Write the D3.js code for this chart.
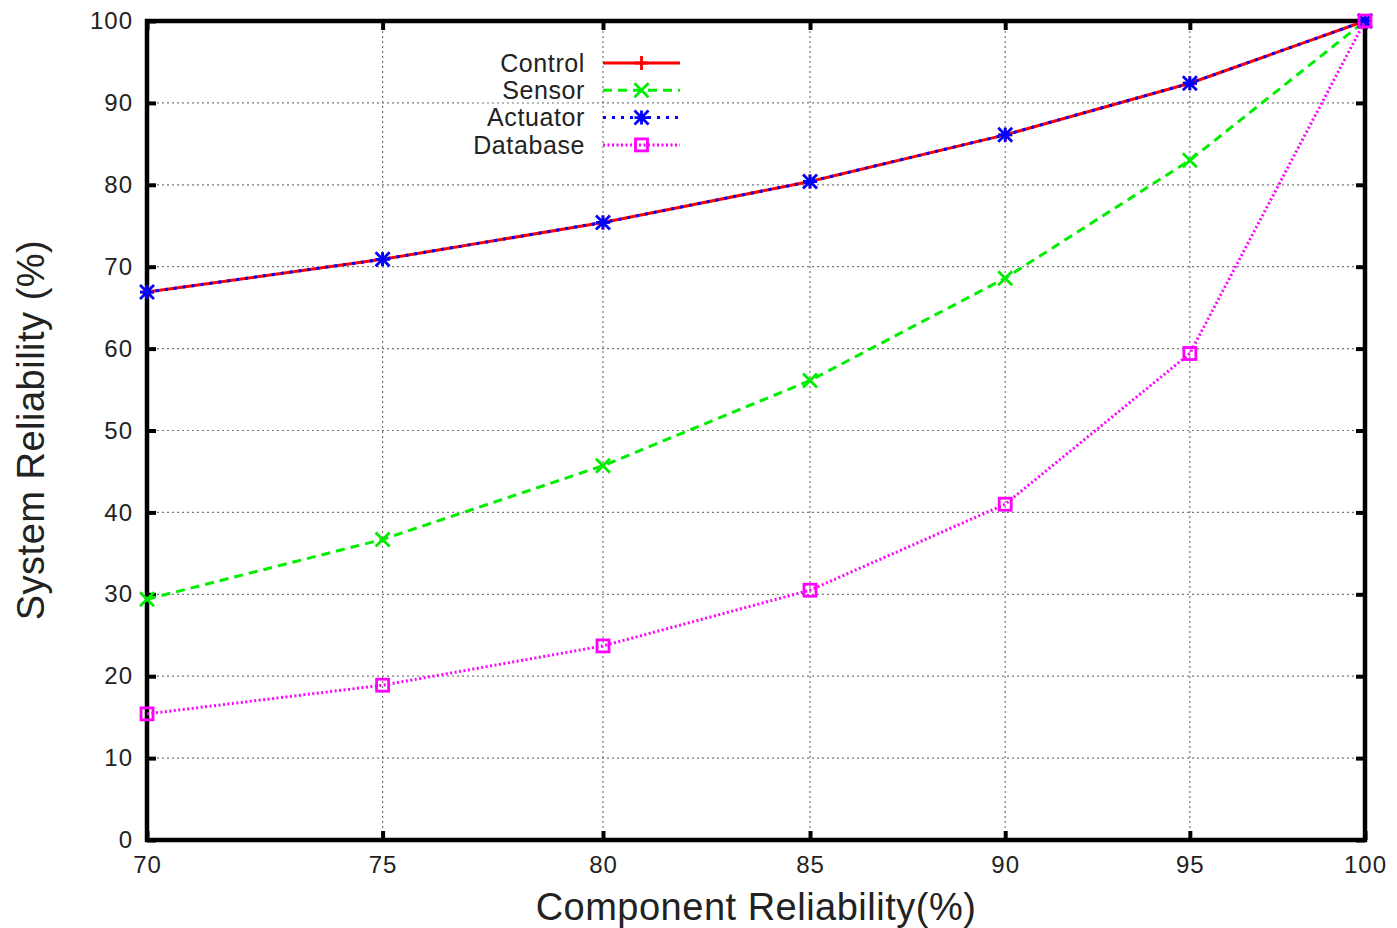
<!DOCTYPE html>
<html>
<head>
<meta charset="utf-8">
<script src="https://cdn.jsdelivr.net/npm/d3@7"></script>
<style>
body { margin:0; background:#fff; }
text { font-family: "Liberation Sans", Arial, sans-serif; fill:#222; }
</style>
</head>
<body>
<svg id="chart" width="1397" height="928"></svg>
<script>
// component reliability (%) on x, system reliability (%) on y
var xValues = [70, 75, 80, 85, 90, 95, 100];
var controlValues = [66.9, 70.9, 75.4, 80.4, 86.1, 92.4, 100];
var sensorValues = [29.4, 36.7, 45.7, 56.1, 68.6, 83.0, 100];
var actuatorValues = [66.9, 70.9, 75.4, 80.4, 86.1, 92.4, 100];
var databaseValues = [15.4, 18.9, 23.7, 30.5, 41.0, 59.4, 100];
var yTicks = [0, 10, 20, 30, 40, 50, 60, 70, 80, 90, 100];

var series = [
	{ name:'Control', values:controlValues, color:'#ff0000', dash:null, marker:'plus' },
	{ name:'Sensor', values:sensorValues, color:'#00ee00', dash:'9,6', marker:'cross' },
	{ name:'Actuator', values:actuatorValues, color:'#0000ff', dash:'3,6', marker:'star' },
	{ name:'Database', values:databaseValues, color:'#ff00ff', dash:'2,2.5', marker:'square' }
];

var plotLeft = 147, plotRight = 1365, plotTop = 21, plotBottom = 840;

var svg = d3.select('#chart');

// the x axis in the original is logarithmic
var x = d3.scaleLog().domain([70, 100]).range([plotLeft, plotRight]);
var y = d3.scaleLinear().domain([0, 100]).range([plotBottom, plotTop]);

// grid
var grid = svg.append('g');
grid.selectAll('.vg').data(xValues.slice(1, -1)).enter().append('line')
	.attr('x1', function(d){ return x(d) }).attr('x2', function(d){ return x(d) })
	.attr('y1', plotTop).attr('y2', plotBottom)
	.attr('stroke', '#777').attr('stroke-width', 1.2).attr('stroke-dasharray', '2,3');
grid.selectAll('.hg').data(yTicks.slice(1, -1)).enter().append('line')
	.attr('x1', plotLeft).attr('x2', plotRight)
	.attr('y1', function(d){ return y(d) }).attr('y2', function(d){ return y(d) })
	.attr('stroke', '#777').attr('stroke-width', 1.2).attr('stroke-dasharray', '2,3');

// axes with inward ticks
var xAxis = d3.axisBottom(x).tickValues(xValues).tickFormat(d3.format('d')).tickSize(-9).tickPadding(16);
var yAxis = d3.axisLeft(y).tickValues(yTicks).tickSize(-9).tickPadding(14);
var xAxisTop = d3.axisTop(x).tickValues(xValues).tickFormat('').tickSize(-9);
var yAxisRight = d3.axisRight(y).tickValues(yTicks).tickFormat('').tickSize(-9);

function styleAxis(g){
	g.select('.domain').remove();
	g.selectAll('.tick line').attr('stroke', '#000').attr('stroke-width', 4);
	g.selectAll('.tick text').style('font-size', '24px').style('letter-spacing', '1px')
		.style('font-family', '"Liberation Sans", Arial, sans-serif').attr('fill', '#2a2a2a');
}
svg.append('g').attr('transform', 'translate(0,' + plotBottom + ')').call(xAxis).call(styleAxis);
svg.append('g').attr('transform', 'translate(' + plotLeft + ',0)').call(yAxis).call(styleAxis);
svg.append('g').attr('transform', 'translate(0,' + plotTop + ')').call(xAxisTop).call(styleAxis);
svg.append('g').attr('transform', 'translate(' + plotRight + ',0)').call(yAxisRight).call(styleAxis);

// frame
svg.append('rect')
	.attr('x', plotLeft).attr('y', plotTop).attr('width', plotRight - plotLeft).attr('height', plotBottom - plotTop)
	.attr('fill', 'none').attr('stroke', '#000').attr('stroke-width', 4.5);

// axis titles
svg.append('text').attr('x', (plotLeft + plotRight) / 2).attr('y', 920)
	.attr('text-anchor', 'middle').style('font-size', '38px').style('letter-spacing', '0.5px').text('Component Reliability(%)');
svg.append('text').attr('transform', 'translate(44,430) rotate(-90)')
	.attr('text-anchor', 'middle').style('font-size', '38px').style('letter-spacing', '0.5px').text('System Reliability (%)');

function drawMarker(g, type, cx, cy, color){
	var s = 7;
	if (type == 'plus') {
		g.append('path').attr('d', 'M' + (cx - s) + ',' + cy + 'H' + (cx + s) + 'M' + cx + ',' + (cy - s) + 'V' + (cy + s))
			.attr('stroke', color).attr('stroke-width', 2.8).attr('fill', 'none');
	} else if (type == 'cross') {
		g.append('path').attr('d', 'M' + (cx - s) + ',' + (cy - s) + 'L' + (cx + s) + ',' + (cy + s) + 'M' + (cx - s) + ',' + (cy + s) + 'L' + (cx + s) + ',' + (cy - s))
			.attr('stroke', color).attr('stroke-width', 2.8).attr('fill', 'none');
	} else if (type == 'star') {
		g.append('path').attr('d', 'M' + (cx - s) + ',' + cy + 'H' + (cx + s) + 'M' + cx + ',' + (cy - s) + 'V' + (cy + s)
			+ 'M' + (cx - s) + ',' + (cy - s) + 'L' + (cx + s) + ',' + (cy + s) + 'M' + (cx - s) + ',' + (cy + s) + 'L' + (cx + s) + ',' + (cy - s))
			.attr('stroke', color).attr('stroke-width', 2.8).attr('fill', 'none');
	} else {
		g.append('rect').attr('x', cx - 6).attr('y', cy - 6).attr('width', 12).attr('height', 12)
			.attr('stroke', color).attr('stroke-width', 2.8).attr('fill', 'none');
	}
}

var lineGen = d3.line()
	.x(function(d){ return x(d.x) })
	.y(function(d){ return y(d.y) });

series.forEach(function(s){
	var pts = xValues.map(function(v, i){ return { x:v, y:s.values[i] } });
	var g = svg.append('g');
	g.append('path').datum(pts)
		.attr('d', lineGen)
		.attr('fill', 'none')
		.attr('stroke', s.color)
		.attr('stroke-width', 3)
		.attr('stroke-dasharray', s.dash);
	pts.forEach(function(p){ drawMarker(g, s.marker, x(p.x), y(p.y), s.color) });
});

// legend
var legend = svg.append('g');
series.forEach(function(s, i){
	var ly = 63 + i * 27.3;
	legend.append('rect').attr('x', 468).attr('y', ly - 12).attr('width', 120).attr('height', 24).attr('fill', '#fff');
	legend.append('text').attr('x', 585).attr('y', ly).attr('dy', '0.35em')
		.attr('text-anchor', 'end').style('font-size', '25px').style('letter-spacing', '0.6px').text(s.name);
	legend.append('line').attr('x1', 603).attr('x2', 680).attr('y1', ly).attr('y2', ly)
		.attr('stroke', s.color).attr('stroke-width', 3).attr('stroke-dasharray', s.dash);
	drawMarker(legend, s.marker, 641.5, ly, s.color);
});
</script>
</body>
</html>
